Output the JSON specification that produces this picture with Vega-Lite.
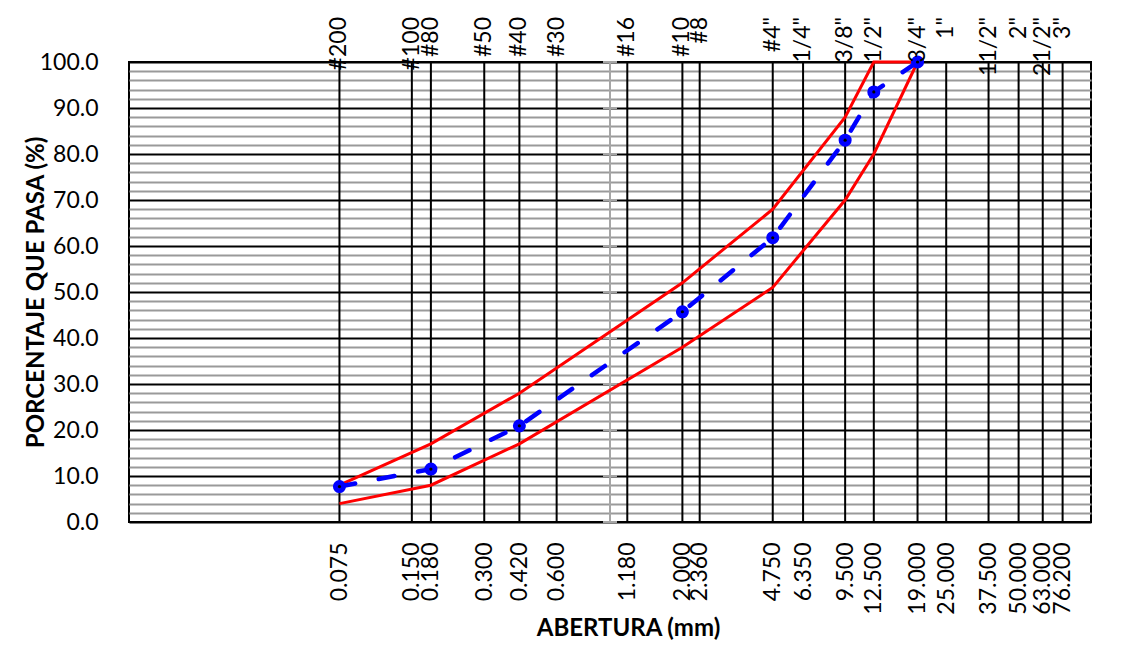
{
  "$schema": "https://vega.github.io/schema/vega-lite/v6.json",
  "width": 962,
  "height": 460,
  "autosize": {"type": "none"},
  "padding": {"left": 129, "top": 62, "right": 50, "bottom": 124},
  "background": "white",
  "config": {"font": "Lato", "view": {"stroke": "black", "strokeWidth": 2}},
  "datasets": {
    "sieves": [
      {"name": "#200", "size": 0.075},
      {"name": "#100", "size": 0.15},
      {"name": "#80", "size": 0.18},
      {"name": "#50", "size": 0.3},
      {"name": "#40", "size": 0.42},
      {"name": "#30", "size": 0.6},
      {"name": "#16", "size": 1.18},
      {"name": "#10", "size": 2.0},
      {"name": "#8", "size": 2.36},
      {"name": "#4\"", "size": 4.75},
      {"name": "1/4\"", "size": 6.35},
      {"name": "3/8\"", "size": 9.5},
      {"name": "1/2\"", "size": 12.5},
      {"name": "3/4\"", "size": 19},
      {"name": "1\"", "size": 25},
      {"name": "11/2\"", "size": 37.5},
      {"name": "2\"", "size": 50},
      {"name": "21/2\"", "size": 63},
      {"name": "3\"", "size": 76.2}
    ],
    "limits": [
      {"serie": "superior", "size": 0.075, "pct": 8},
      {"serie": "superior", "size": 0.18, "pct": 17},
      {"serie": "superior", "size": 0.42, "pct": 28},
      {"serie": "superior", "size": 2.0, "pct": 52},
      {"serie": "superior", "size": 4.75, "pct": 68},
      {"serie": "superior", "size": 9.5, "pct": 88},
      {"serie": "superior", "size": 12.5, "pct": 100},
      {"serie": "superior", "size": 19, "pct": 100},
      {"serie": "inferior", "size": 0.075, "pct": 4},
      {"serie": "inferior", "size": 0.18, "pct": 8},
      {"serie": "inferior", "size": 0.42, "pct": 17},
      {"serie": "inferior", "size": 2.0, "pct": 38},
      {"serie": "inferior", "size": 4.75, "pct": 51},
      {"serie": "inferior", "size": 9.5, "pct": 70},
      {"serie": "inferior", "size": 12.5, "pct": 80},
      {"serie": "inferior", "size": 19, "pct": 100}
    ],
    "muestra": [
      {"size": 0.075, "pct": 7.7},
      {"size": 0.18, "pct": 11.5},
      {"size": 0.42, "pct": 20.9},
      {"size": 2.0, "pct": 45.7},
      {"size": 4.75, "pct": 61.8},
      {"size": 9.5, "pct": 83.0},
      {"size": 12.5, "pct": 93.5},
      {"size": 19, "pct": 100}
    ],
    "crossing": [{"size": 1}],
    "yticks": [
      {"pct": 0}, {"pct": 10}, {"pct": 20}, {"pct": 30}, {"pct": 40}, {"pct": 50},
      {"pct": 60}, {"pct": 70}, {"pct": 80}, {"pct": 90}, {"pct": 100}
    ]
  },
  "layer": [
    {
      "data": {"name": "sieves"},
      "mark": {"type": "rule", "color": "black", "strokeWidth": 2},
      "encoding": {
        "x": {
          "field": "size",
          "type": "quantitative",
          "scale": {"type": "log", "domain": [0.01, 100], "nice": false},
          "axis": {
            "values": [0.075, 0.15, 0.18, 0.3, 0.42, 0.6, 1.18, 2.0, 2.36, 4.75, 6.35, 9.5, 12.5, 19, 25, 37.5, 50, 63, 76.2],
            "tickCount": 100,
            "format": ".3f",
            "labelAngle": -90,
            "labelAlign": "right",
            "labelBaseline": "middle",
            "labelPadding": 20,
            "labelFontSize": 23,
            "labelColor": "black",
            "labelOverlap": false,
            "labelFlush": false,
            "labelBound": false,
            "ticks": false,
            "domain": false,
            "grid": false,
            "title": "ABERTURA (mm)",
            "titleFontSize": 24,
            "titleFontWeight": "bold",
            "titleColor": "black",
            "titlePadding": 2,
            "titleX": 499
          }
        }
      }
    },
    {
      "data": {"name": "crossing"},
      "mark": {"type": "rule", "color": "#a6a6a6", "strokeWidth": 2},
      "encoding": {"x": {"field": "size", "type": "quantitative"}}
    },
    {
      "data": {"name": "yticks"},
      "mark": {"type": "tick", "orient": "horizontal", "color": "#a6a6a6", "size": 14, "thickness": 2, "opacity": 1},
      "encoding": {
        "x": {"datum": 1, "type": "quantitative"},
        "y": {"field": "pct", "type": "quantitative"}
      }
    },
    {
      "data": {"name": "limits"},
      "mark": {"type": "line", "color": "#ff0000", "strokeWidth": 3},
      "encoding": {
        "x": {"field": "size", "type": "quantitative"},
        "y": {
          "field": "pct",
          "type": "quantitative",
          "scale": {"domain": [0, 100], "nice": false},
          "axis": {
            "values": [0, 2, 4, 6, 8, 10, 12, 14, 16, 18, 20, 22, 24, 26, 28, 30, 32, 34, 36, 38, 40, 42, 44, 46, 48, 50, 52, 54, 56, 58, 60, 62, 64, 66, 68, 70, 72, 74, 76, 78, 80, 82, 84, 86, 88, 90, 92, 94, 96, 98, 100],
            "tickCount": 100,
            "labelExpr": "datum.value % 10 === 0 ? format(datum.value, '.1f') : ''",
            "grid": true,
            "gridColor": {"condition": {"test": "datum.value % 10 === 0", "value": "black"}, "value": "#9a9a9a"},
            "gridWidth": 2,
            "ticks": false,
            "domain": false,
            "labelFontSize": 23,
            "labelColor": "black",
            "labelPadding": 31,
            "labelOverlap": false,
            "labelFlush": false,
            "title": "PORCENTAJE QUE PASA (%)",
            "titleFontSize": 24,
            "titleFontWeight": "bold",
            "titleColor": "black",
            "titlePadding": -9
          }
        },
        "detail": {"field": "serie"}
      }
    },
    {
      "data": {"name": "muestra"},
      "mark": {"type": "line", "color": "#0000ff", "strokeWidth": 4.5, "strokeDash": [16, 24], "strokeCap": "round"},
      "encoding": {
        "x": {"field": "size", "type": "quantitative"},
        "y": {"field": "pct", "type": "quantitative"}
      }
    },
    {
      "data": {"name": "muestra"},
      "mark": {"type": "point", "shape": "circle", "filled": true, "color": "#0000ff", "size": 170, "opacity": 1},
      "encoding": {
        "x": {"field": "size", "type": "quantitative"},
        "y": {"field": "pct", "type": "quantitative"}
      }
    },
    {
      "data": {"name": "muestra"},
      "mark": {"type": "point", "shape": "circle", "filled": true, "color": "black", "size": 10, "opacity": 1},
      "encoding": {
        "x": {"field": "size", "type": "quantitative"},
        "y": {"field": "pct", "type": "quantitative"}
      }
    },
    {
      "data": {"name": "sieves"},
      "mark": {"type": "text", "angle": 270, "align": "right", "baseline": "middle", "dx": 45, "fontSize": 23, "color": "black"},
      "encoding": {
        "x": {"field": "size", "type": "quantitative"},
        "y": {"datum": 100, "type": "quantitative"},
        "text": {"field": "name"}
      }
    }
  ]
}
